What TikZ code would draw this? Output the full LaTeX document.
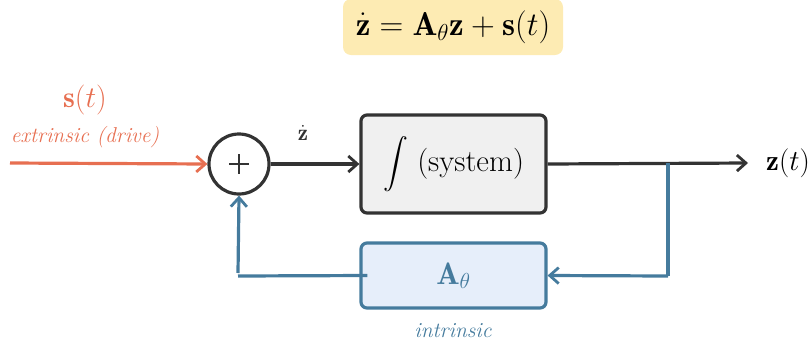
\RequirePackage{fix-cm}
\documentclass[tikz,border=0pt]{standalone}
\usepackage{amsmath}
\usepackage{fontspec}
\usetikzlibrary{arrows.meta,positioning}
\definecolor{dark}{HTML}{333333}
\definecolor{drive}{HTML}{E76F51}
\definecolor{intr}{HTML}{457B9D}
\definecolor{titlefill}{HTML}{FDEBB3}
\definecolor{sysfill}{HTML}{F0F0F0}
\definecolor{afill}{HTML}{E6EEFA}
\tikzset{
  fs/.style={font=\fontsize{#1}{#1}\selectfont},
  blockbox/.style={draw, rounded corners=6pt, line width=3.2pt, minimum width=185pt, minimum height=#1, inner sep=0pt},
  tip/.style={-{Straight Barb[length=9pt,width=16pt,line width=2.8pt]}},
  conn/.style={line width=3.2pt},
}
\begin{document}
\begin{tikzpicture}[x=1pt,y=-1pt]
\useasboundingbox (0,0) rectangle (812,349);
% title
\node[fill=titlefill, rounded corners=8pt, minimum width=220pt, minimum height=56pt, inner sep=0pt, fs=33] (title) at (453,27) {$\dot{\mathbf{z}} = \mathbf{A}_\theta \mathbf{z} + \mathbf{s}(t)$};
% drive
\node[text=drive, fs=30] (s) at (85,100) {$\mathbf{s}(t)$};
\node[text=drive, fs=21.5] (ext) at (85,137) {\itshape extrinsic (drive)};
\coordinate (in) at (10,163);
% sum
\node[circle, draw=dark, line width=3.2pt, minimum size=60pt, inner sep=0pt] (sum) at (239,164) {};
\draw[line width=1.3pt, dark] (sum.center) +(-10,0) -- +(10,0) (sum.center) +(0,-10) -- +(0,10);
% system
\node[blockbox=98pt, draw=dark, fill=sysfill, fs=31] (sys) at (453.5,164) {$\displaystyle\int$\ (system)};
% A box
\node[blockbox=65pt, draw=intr, fill=afill, text=intr, fs=31] (A) at (453.5,275.5) {$\mathbf{A}_\theta$};
\node[text=intr, fs=21.5] (intrlbl) at (453,331) {\itshape intrinsic};
% output
\node[fs=29, anchor=west, inner sep=0pt] (z) at (766,163) {$\mathbf{z}(t)$};
\node[fs=23, text=dark] (zdot) at (303,133) {$\dot{\mathbf{z}}$};
\coordinate (out) at (748,163);
\coordinate (br) at (668,163);
\coordinate (bd) at (668,276);
\coordinate (fl) at (238,276);
\coordinate (fu) at (238,273);
% connectors
\draw[conn, drive, tip] (in) -- (sum.west);
\draw[conn, dark, tip] (sum.east) -- (sys.west);
\draw[conn, dark, tip] (sys.east) -- (out);
\draw[conn, intr] (br) -- (bd);
\draw[conn, intr, tip] (bd) -- (A.east);
\draw[conn, intr] ([xshift=8pt]A.west) -- (fl);
\draw[conn, intr, tip] (fu) -- (sum.south);
\end{tikzpicture}
\end{document}
